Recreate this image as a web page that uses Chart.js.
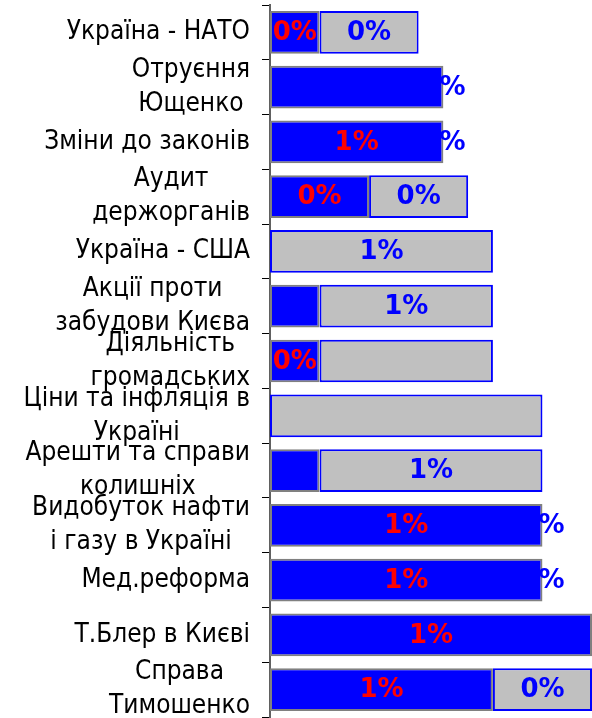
<!DOCTYPE html>
<html>
<head>
<meta charset="utf-8">
<script src="https://cdn.jsdelivr.net/npm/chart.js@4"></script>
<style>
  html, body { margin: 0; padding: 0; background: #fff; }
  #wrap { width: 592px; height: 718px; }
</style>
</head>
<body>
<div id="wrap"><canvas id="chart"></canvas></div>
<script>
// categories (multi-line labels as in the picture)
const categories = [
  ['Україна - НАТО'],
  ['Отруєння', 'Ющенко'],
  ['Зміни до законів'],
  ['Аудит', 'держорганів'],
  ['Україна - США'],
  ['Акції проти', 'забудови Києва'],
  ['Діяльність', 'громадських'],
  ['Ціни та інфляція в', 'Україні'],
  ['Арешти та справи', 'колишніх'],
  ['Видобуток нафти', 'і газу в Україні'],
  ['Мед.реформа'],
  ['Т.Блер в Києві'],
  ['Справа', 'Тимошенко']
];

// values in %
const blueValues = [0.2, 0.7, 0.7, 0.4, 0, 0.2, 0.2, 0, 0.2, 1.1, 1.1, 1.3, 0.9];
const grayValues = [0.4, 0, 0, 0.4, 0.9, 0.7, 0.7, 1.1, 0.9, 0, 0, 0, 0.4];

// data labels as shown (some are missing in the picture)
const blueLabels = ['0%', '', '1%', '0%', '', '', '0%', '', '', '1%', '1%', '1%', '1%'];
const grayLabels = ['0%', '0%', '0%', '0%', '1%', '1%', '', '', '1%', '0%', '0%', '', '0%'];

const barLabels = {
  id: 'barLabels',
  afterDatasetsDraw(chart) {
    const ctx = chart.ctx;
    ctx.save();
    ctx.font = 'bold 26px "DejaVu Sans"';
    ctx.textAlign = 'center';
    ctx.textBaseline = 'middle';
    chart.data.datasets.forEach((ds, di) => {
      chart.getDatasetMeta(di).data.forEach((bar, i) => {
        const t = ds.valueLabels[i];
        if (!t) return;
        ctx.fillStyle = ds.labelColor;
        ctx.fillText(t, (bar.x + bar.base) / 2, bar.y + 1);
      });
    });
    ctx.restore();
  }
};

// category labels: block right-aligned, lines centered inside the block
const catLabels = {
  id: 'catLabels',
  afterDraw(chart) {
    const ctx = chart.ctx;
    const y = chart.scales.y;
    ctx.save();
    ctx.font = '26px "DejaVu Sans Condensed", "DejaVu Sans"';
    ctx.fillStyle = '#000';
    ctx.textAlign = 'center';
    ctx.textBaseline = 'middle';
    const right = y.right - 20;
    categories.forEach((lines, i) => {
      const cy = y.getPixelForTick(i);
      const w = Math.max(...lines.map(l => ctx.measureText(l).width));
      const cx = right - w / 2;
      lines.forEach((l, k) => {
        ctx.fillText(l, cx, cy + (k - (lines.length - 1) / 2) * 34);
      });
    });
    ctx.restore();
  }
};

new Chart(document.getElementById('chart'), {
  type: 'bar',
  data: {
    labels: categories.map(c => c.join(' ')),
    datasets: [{
      data: blueValues,
      backgroundColor: '#0000FF',
      borderColor: '#808080',
      borderWidth: 2,
      borderSkipped: false,
      valueLabels: blueLabels,
      labelColor: '#FF0000'
    }, {
      data: grayValues,
      backgroundColor: '#C0C0C0',
      borderColor: '#0000FF',
      borderWidth: 2,
      borderSkipped: false,
      valueLabels: grayLabels,
      labelColor: '#0000FF'
    }]
  },
  options: {
    indexAxis: 'y',
    responsive: true,
    maintainAspectRatio: false,
    animation: false,
    layout: { padding: { top: 5, bottom: 1, right: 0 } },
    datasets: { bar: { barPercentage: 0.78, categoryPercentage: 1 } },
    plugins: { legend: { display: false }, tooltip: { enabled: false } },
    scales: {
      x: { stacked: true, display: false, min: 0, max: 1.3 },
      y: {
        stacked: true,
        grid: { offset: true, drawOnChartArea: false, tickLength: 8, color: '#000' },
        border: { color: '#606060', width: 2 },
        ticks: { display: false },
        afterFit(scale) { scale.width = 270; }
      }
    }
  },
  plugins: [barLabels, catLabels]
});
</script>
</body>
</html>
